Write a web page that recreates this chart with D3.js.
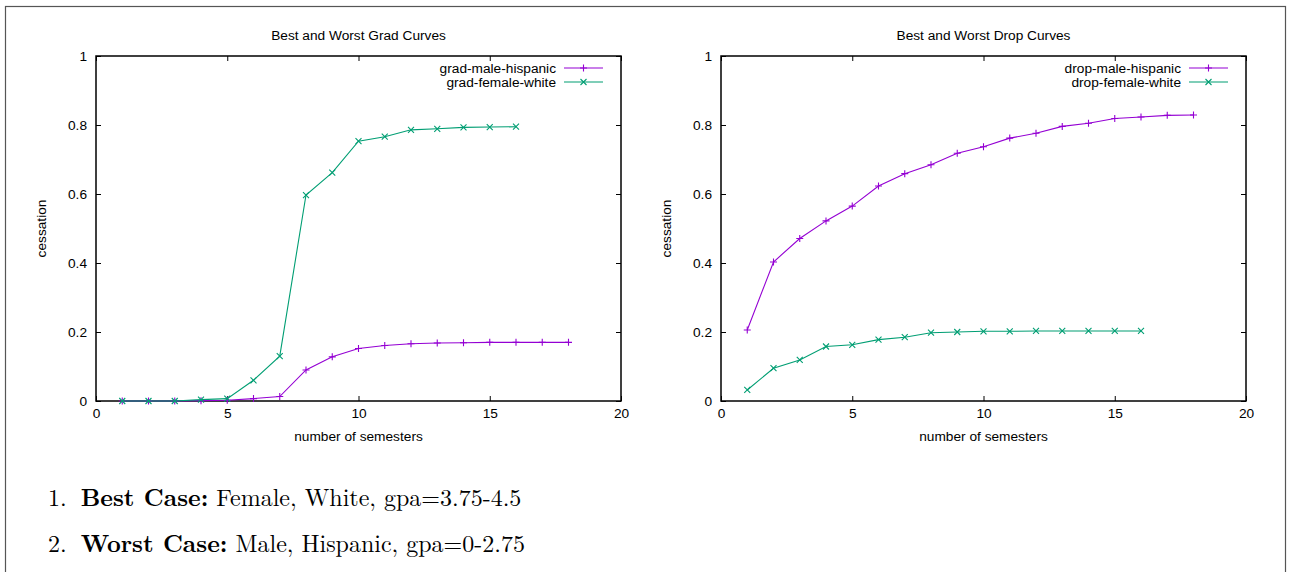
<!DOCTYPE html>
<html>
<head>
<meta charset="utf-8">
<script src="https://cdn.jsdelivr.net/npm/d3@7"></script>
<style>
  html, body { margin: 0; padding: 0; background: #fff; }
  svg { display: block; }
</style>
</head>
<body>
<svg id="chart" width="1293" height="572"></svg>
<script>
// ---- data ----
const semestersLong = [1,2,3,4,5,6,7,8,9,10,11,12,13,14,15,16,17,18];
const semestersShort = [1,2,3,4,5,6,7,8,9,10,11,12,13,14,15,16];
const gradMaleHispanic = [0,0,0,0.001,0.002,0.007,0.013,0.09,0.128,0.152,0.161,0.166,0.168,0.169,0.17,0.17,0.17,0.17];
const gradFemaleWhite = [0,0,0,0.004,0.007,0.06,0.13,0.597,0.662,0.753,0.766,0.786,0.789,0.793,0.794,0.795];
const dropMaleHispanic = [0.206,0.403,0.471,0.522,0.565,0.623,0.659,0.685,0.718,0.737,0.762,0.776,0.796,0.805,0.819,0.823,0.828,0.829];
const dropFemaleWhite = [0.032,0.095,0.119,0.158,0.163,0.178,0.185,0.198,0.2,0.202,0.202,0.203,0.203,0.203,0.203,0.203];
const xTicks = [0,5,10,15,20];
const xTickLabels = ["0","5","10","15","20"];
const yTicks = [0,0.2,0.4,0.6,0.8,1];
const yTickLabels = ["0","0.2","0.4","0.6","0.8","1"];
const panelTitles = ["Best and Worst Grad Curves","Best and Worst Drop Curves"];
const seriesNames = [["grad-male-hispanic","grad-female-white"],["drop-male-hispanic","drop-female-white"]];
const xLabel = "number of semesters";
const yLabel = "cessation";
const caseLines = [
  {num:"1.", bold:"Best Case:", rest:" Female, White, gpa=3.75-4.5"},
  {num:"2.", bold:"Worst Case:", rest:" Male, Hispanic, gpa=0-2.75"}
];

const colors = ["#9400d3", "#009e73"];
const svg = d3.select("#chart");
const sans = "'Liberation Sans', Arial, Helvetica, sans-serif";
const serif = "'Latin Modern Roman', 'CMU Serif', 'Liberation Serif', 'DejaVu Serif', serif";
const fs = 13.7;

// outer frame
svg.append("rect").attr("x",5.5).attr("y",6.5).attr("width",1280).attr("height",600)
  .attr("fill","none").attr("stroke","#555").attr("stroke-width",1.2);

const panels = [
  {x0:96, x1:621, data:[[semestersLong, gradMaleHispanic],[semestersShort, gradFemaleWhite]]},
  {x0:721, x1:1246, data:[[semestersLong, dropMaleHispanic],[semestersShort, dropFemaleWhite]]}
];
const yTop = 56, yBot = 401;

function plusPath(s){ return `M${-s},0H${s}M0,${-s}V${s}`; }
function crossPath(s){ return `M${-s},${-s}L${s},${s}M${-s},${s}L${s},${-s}`; }

panels.forEach((p, pi) => {
  const x = d3.scaleLinear().domain([0,20]).range([p.x0, p.x1]);
  const y = d3.scaleLinear().domain([0,1]).range([yBot, yTop]);
  const g = svg.append("g");

  // axes with inward ticks
  const tl = 5;
  const ax = [
    g.append("g").attr("transform",`translate(0,${yBot})`)
      .call(d3.axisBottom(x).tickValues(xTicks).tickFormat((d,i)=>xTickLabels[i]).tickSize(-tl).tickPadding(7)),
    g.append("g").attr("transform",`translate(0,${yTop})`)
      .call(d3.axisTop(x).tickValues(xTicks).tickFormat("").tickSize(-tl)),
    g.append("g").attr("transform",`translate(${p.x0},0)`)
      .call(d3.axisLeft(y).tickValues(yTicks).tickFormat((d,i)=>yTickLabels[i]).tickSize(-tl).tickPadding(9)),
    g.append("g").attr("transform",`translate(${p.x1},0)`)
      .call(d3.axisRight(y).tickValues(yTicks).tickFormat("").tickSize(-tl))
  ];
  ax.forEach(a => {
    a.select(".domain").remove();
    a.selectAll("line").attr("stroke","#000").attr("stroke-width",1);
    a.selectAll("text").attr("font-family",sans).attr("font-size",fs).attr("fill","#000");
  });
  g.append("rect").attr("x",p.x0).attr("y",yTop).attr("width",p.x1-p.x0).attr("height",yBot-yTop)
    .attr("fill","none").attr("stroke","#000").attr("stroke-width",1.5);

  // titles and labels
  const cx = (p.x0+p.x1)/2;
  g.append("text").attr("x",cx).attr("y",40).attr("text-anchor","middle")
    .attr("font-family",sans).attr("font-size",fs).text(panelTitles[pi]);
  g.append("text").attr("x",cx).attr("y",441).attr("text-anchor","middle")
    .attr("font-family",sans).attr("font-size",fs).text(xLabel);
  g.append("text").attr("transform",`translate(${p.x0-50},${(yTop+yBot)/2}) rotate(-90)`)
    .attr("text-anchor","middle").attr("font-family",sans).attr("font-size",fs).text(yLabel);

  // series
  const line = d3.line().x(d=>x(d[0])).y(d=>y(d[1]));
  p.data.forEach((s, si) => {
    const pts = s[0].map((v,i)=>[v, s[1][i]]);
    g.append("path").attr("d", line(pts)).attr("fill","none")
      .attr("stroke",colors[si]).attr("stroke-width",1.1);
    g.selectAll(null).data(pts).enter().append("path")
      .attr("transform",d=>`translate(${x(d[0])},${y(d[1])})`)
      .attr("d", si===0 ? plusPath(3.5) : crossPath(3))
      .attr("stroke",colors[si]).attr("stroke-width",1.1).attr("fill","none");
  });

  // legend
  seriesNames[pi].forEach((name, si) => {
    const ly = 68 + si*14;
    const lx = p.x1 - 65;
    g.append("text").attr("x",lx).attr("y",ly+5).attr("text-anchor","end")
      .attr("font-family",sans).attr("font-size",fs).text(name);
    g.append("line").attr("x1",lx+8).attr("x2",lx+47).attr("y1",ly).attr("y2",ly)
      .attr("stroke",colors[si]).attr("stroke-width",1.1);
    g.append("path").attr("transform",`translate(${lx+27.5},${ly})`)
      .attr("d", si===0 ? plusPath(3.5) : crossPath(3))
      .attr("stroke",colors[si]).attr("stroke-width",1.1).attr("fill","none");
  });
});

// bottom enumerated text
caseLines.forEach((c, i) => {
  const t = svg.append("text").attr("x",48).attr("y",506 + i*46)
    .attr("font-family",serif).attr("font-size",24).attr("fill","#000");
  t.append("tspan").text(c.num + " ");
  t.append("tspan").attr("dx",6).attr("font-weight","bold").text(c.bold);
  t.append("tspan").text(c.rest);
});
</script>
</body>
</html>
